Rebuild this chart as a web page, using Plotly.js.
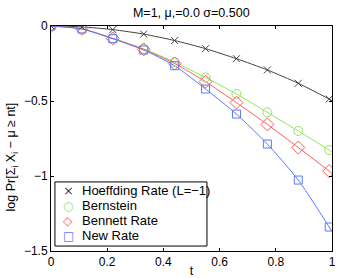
<!DOCTYPE html>
<html>
<head>
<meta charset="utf-8">
<script src="https://cdn.plot.ly/plotly-3.0.1.min.js"></script>
<style>
html,body{margin:0;padding:0;background:#fff;}
#chart{width:341px;height:278px;}
</style>
</head>
<body>
<div id="chart"></div>
<script>
// marker positions
const tMarks = [0, 0.11, 0.22, 0.33, 0.44, 0.55, 0.66, 0.77, 0.88, 0.99];
const hoeffding = [0, -0.006, -0.024, -0.054, -0.097, -0.151, -0.218, -0.293, -0.382, -0.487];
const bernstein = [0, -0.018, -0.082, -0.153, -0.240, -0.344, -0.453, -0.576, -0.700, -0.827];
const bennett   = [0, -0.019, -0.083, -0.156, -0.250, -0.371, -0.511, -0.656, -0.810, -0.967];
const newRate   = [0, -0.020, -0.085, -0.160, -0.265, -0.420, -0.587, -0.787, -1.027, -1.340];
// curve end values at t = 1
const tEnd = 1;
const endHoeffding = -0.497, endBernstein = -0.840, endBennett = -0.982, endNewRate = -1.372;

const names = ['Hoeffding Rate (L=\u22121)', 'Bernstein', 'Bennett Rate', 'New Rate'];
const legendGlyphs = ['\u00d7', '\u25cb', '\u25c7', '\u25a1'];
const xTickVals = [0, 0.2, 0.4, 0.6, 0.8, 1];
const xTickText = ['0', '0.2', '0.4', '0.6', '0.8', '1'];
const yTickVals = [0, -0.5, -1, -1.5];
const yTickText = ['0', '\u22120.5', '\u22121', '\u22121.5'];
const series = [hoeffding, bernstein, bennett, newRate];
const ends = [endHoeffding, endBernstein, endBennett, endNewRate];
const colors = ['#444444', '#8ee65a', '#ff5a5a', '#5a78ff'];
const symbols = ['x-thin-open', 'circle-open', 'diamond-open', 'square-open'];
const sizes = [7, 9, 10, 8];

const traces = [];
series.forEach((s, i) => {
  traces.push({
    x: tMarks.concat([tEnd]), y: s.concat([ends[i]]),
    mode: 'lines', line: {color: colors[i], width: 1, shape: 'spline', smoothing: 0.6},
    showlegend: false, hoverinfo: 'skip'
  });
});
series.forEach((s, i) => {
  traces.push({
    x: tMarks, y: s, name: names[i],
    mode: 'markers', showlegend: false,
    marker: {symbol: symbols[i], size: sizes[i], color: colors[i], line: {color: colors[i], width: 1}}
  });
});

const FAM = 'Liberation Sans, Arial, sans-serif';
const font = {family: FAM, size: 12, color: '#000'};
const legFont = {family: FAM, size: 13, color: '#000'};

// hand-built legend (boxed, compact like the reference)
const legX0 = 0.014, legX1 = 0.555, legY0 = 0.022, legY1 = 0.307;
const rowY = [0.269, 0.202, 0.135, 0.068];
const annotations = [];
names.forEach((n, i) => {
  annotations.push({xref: 'paper', yref: 'paper', x: 0.0605, y: rowY[i], xanchor: 'center', yanchor: 'middle',
    text: legendGlyphs[i], showarrow: false,
    font: {family: 'DejaVu Sans, sans-serif', size: i === 0 ? 13 : 12, color: colors[i]}});
  annotations.push({xref: 'paper', yref: 'paper', x: 0.103, y: rowY[i], xanchor: 'left', yanchor: 'middle',
    text: n, showarrow: false, font: legFont});
});
// y-axis label
annotations.push({xref: 'paper', yref: 'paper', x: -0.139, y: 0.42, xanchor: 'center', yanchor: 'middle',
  textangle: -90, showarrow: false, font: {family: FAM, size: 12.5, color: '#000'},
  text: 'log Pr[\u03a3<sub>i</sub> X<sub>i</sub> \u2212 \u03bc \u2265 nt]'});

const layout = {
  width: 341, height: 278,
  margin: {l: 51, r: 9, t: 26, b: 27, pad: 0},
  paper_bgcolor: '#fff', plot_bgcolor: '#fff',
  font: font,
  showlegend: false,
  title: {text: 'M=1, \u03bc,=0.0 \u03c3=0.500', font: {family: FAM, size: 12.5, color: '#000'}, x: 0.561, xanchor: 'center', y: 0.955, yanchor: 'middle'},
  xaxis: {
    range: [0, 1], tickvals: xTickVals, ticktext: xTickText,
    ticks: 'inside', ticklen: 3, tickcolor: '#000', showline: true, linecolor: '#000', linewidth: 1,
    mirror: 'allticks', showgrid: false, zeroline: false,
    title: {text: 't', font: {family: FAM, size: 12.5, color: '#000'}, standoff: 0}, tickfont: font
  },
  yaxis: {
    range: [-1.5, 0], tickvals: yTickVals, ticktext: yTickText,
    ticks: 'inside', ticklen: 3, tickcolor: '#000', showline: true, linecolor: '#000', linewidth: 1,
    mirror: 'allticks', showgrid: false, zeroline: false, tickfont: font
  },
  shapes: [{type: 'rect', xref: 'paper', yref: 'paper', x0: legX0, x1: legX1, y0: legY0, y1: legY1,
    line: {color: '#000', width: 1}, fillcolor: '#fff', layer: 'above'}],
  annotations: annotations
};
Plotly.newPlot('chart', traces, layout, {staticPlot: true, displayModeBar: false});
</script>
</body>
</html>
